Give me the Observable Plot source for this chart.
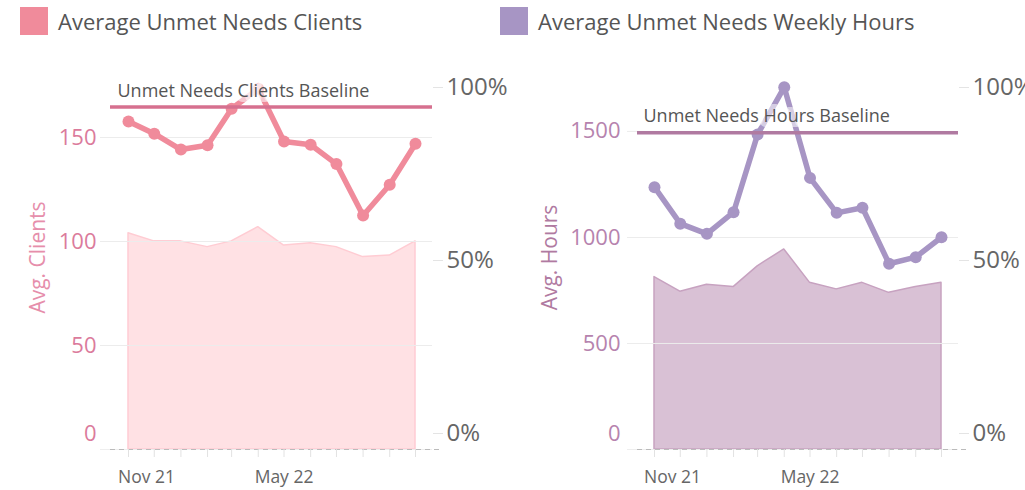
<!DOCTYPE html>
<html>
<head>
<meta charset="utf-8">
<script src="https://cdn.jsdelivr.net/npm/d3@7"></script>
<script src="https://cdn.jsdelivr.net/npm/@observablehq/plot@0.6"></script>
<style>
  html, body { margin: 0; padding: 0; background: white; }
  body { width: 1025px; height: 490px; position: relative; overflow: hidden; font-family: "Open Sans", sans-serif; }
  .legend-item { position: absolute; top: 7px; display: flex; align-items: center; }
  .swatch { width: 28px; height: 28px; margin-right: 10px; }
  .legend-label { font-size: 22px; color: #555; line-height: 28px; }
  .panel { position: absolute; top: 50px; height: 440px; }
  .panel svg { position: absolute; left: 0; top: 0; max-width: none !important; }
</style>
</head>
<body>
<div class="legend-item" style="left:20px"><div class="swatch" style="background:#F08B9B"></div><div class="legend-label">Average Unmet Needs Clients</div></div>
<div class="legend-item" style="left:500px"><div class="swatch" style="background:#A795C4"></div><div class="legend-label">Average Unmet Needs Weekly Hours</div></div>
<div id="p1" class="panel" style="left:0px; width:512px"></div>
<div id="p2" class="panel" style="left:512px; width:513px"></div>
<script>
// ---- data ----
const months = ["2021-11","2021-12","2022-01","2022-02","2022-03","2022-04","2022-05","2022-06","2022-07","2022-08","2022-09","2022-10"];
const avgClients = [157.7, 151.8, 144.2, 146.3, 163.8, 173.4, 148.1, 146.5, 137.2, 112.5, 127.3, 147.0];
const clientsPct = [0.563, 0.542, 0.542, 0.527, 0.542, 0.579, 0.531, 0.537, 0.527, 0.501, 0.505, 0.542];
const avgHours = [1237, 1065, 1017, 1119, 1486, 1709, 1281, 1116, 1140, 876, 907, 1001];
const hoursPct = [0.449, 0.411, 0.429, 0.423, 0.477, 0.521, 0.434, 0.417, 0.434, 0.408, 0.423, 0.434];
const clientsBaseline = 164.6;
const hoursBaseline = 1494;
const clientsTicks = [0, 50, 100, 150];
const hoursTicks = [0, 500, 1000, 1500];
const pctTicks = [0, 0.5, 1];
const labeledMonths = ["2021-11", "2022-05"];

const parse = d3.utcParse("%Y-%m");
const dates = months.map(parse);

function panel(el, cfg) {
  const data = dates.map((d, i) => ({date: d, v: cfg.values[i], p: cfg.pct[i]}));
  const common = {
    width: cfg.width, height: 440,
    marginTop: 15, marginBottom: 41, marginLeft: cfg.mL, marginRight: cfg.mR,
    style: {fontFamily: "Open Sans", background: "transparent", overflow: "visible", maxWidth: "none"}
  };
  const xScale = {type: "utc", domain: [dates[0], dates[dates.length - 1]], insetLeft: cfg.insetL, insetRight: 17};
  const back = Plot.plot({
    ...common,
    x: {...xScale, axis: null},
    y: {domain: [0, 1], axis: null},
    marks: [
      Plot.areaY(data, {x: "date", y: "p", fill: cfg.areaFill, stroke: cfg.areaStroke, strokeWidth: 1.5}),
      Plot.axisY([pctTicks[2]], {anchor: "right", tickSize: 10, tickPadding: 4, dy: 22, tickFormat: d3.format(".0%"), stroke: "#e4e4e4", fill: "#666", fontSize: 24, label: null}),
      Plot.axisY([pctTicks[1]], {anchor: "right", tickSize: 10, tickPadding: 4, dy: 3, tickFormat: d3.format(".0%"), stroke: "#e4e4e4", fill: "#666", fontSize: 24, label: null}),
      Plot.axisY([pctTicks[0]], {anchor: "right", tickSize: 10, tickPadding: 4, dy: -16, tickFormat: d3.format(".0%"), stroke: "#e4e4e4", fill: "#666", fontSize: 24, label: null})
    ]
  });
  const front = Plot.plot({
    ...common,
    x: xScale,
    y: {domain: [0, cfg.yMax]},
    marks: [
      Plot.gridY(cfg.ticks.slice(1), {stroke: "#ececec", strokeOpacity: 1}),
      Plot.ruleY([0], {stroke: "#eeeeee"}),
      Plot.ruleY([0], {stroke: "#bbbbbb", strokeDasharray: "5,4", insetLeft: 10, insetRight: -10}),
      Plot.axisX(dates, {tickSize: 8, stroke: "#e2e2e2", tickFormat: () => "", label: null}),
      Plot.axisX([parse(labeledMonths[1])], {tickSize: 0, tickPadding: 21, tickFormat: d3.utcFormat("%b %y"), fill: "#666", fontSize: 17.5, label: null}),
      Plot.axisX([parse(labeledMonths[0])], {tickSize: 0, tickPadding: 21, dx: 18, tickFormat: d3.utcFormat("%b %y"), fill: "#666", fontSize: 17.5, label: null}),
      Plot.axisY(cfg.ticks.slice(1), {anchor: "left", tickSize: 0, tickPadding: cfg.tickPad, fill: cfg.tickColor, fontSize: 22, tickFormat: d3.format("d"), label: null}),
      Plot.axisY(cfg.ticks.slice(0, 1), {anchor: "left", tickSize: 0, tickPadding: cfg.tickPad, dy: -16, fill: cfg.tickColor, fontSize: 22, tickFormat: d3.format("d"), label: null}),
      Plot.text([cfg.title], {frameAnchor: "left", rotate: -90, dx: cfg.titleDx, dy: 0, textAnchor: "middle", lineAnchor: "middle", fill: cfg.titleColor, fontSize: 21}),
      Plot.lineY(data, {x: "date", y: "v", stroke: cfg.lineColor, strokeWidth: 5.5}),
      Plot.dot(data, {x: "date", y: "v", fill: cfg.lineColor, r: 6}),
      Plot.ruleY([cfg.baseline], {stroke: cfg.baseColor, strokeWidth: 3.5, insetLeft: 10}),
      Plot.text([{date: dates[0], v: cfg.baseline, t: cfg.baseLabel}], {x: "date", y: "v", text: "t", textAnchor: "start", dx: -11, dy: -16, fill: "#555", fontSize: 18, stroke: "white", strokeOpacity: 0.55, strokeWidth: 10})
    ]
  });
  el.appendChild(back);
  el.appendChild(front);
}

panel(document.getElementById("p1"), {
  width: 512, mL: 100, mR: 80, insetL: 28,
  values: avgClients, pct: clientsPct, baseline: clientsBaseline, yMax: 184.6, ticks: clientsTicks,
  areaFill: "#FFE1E4", areaStroke: "#FFCCD3",
  lineColor: "#F08B9B", baseColor: "#D6708F",
  tickColor: "#DB7B9C", titleColor: "#E68EAB", title: "Avg. Clients", titleDx: -62, tickPad: 4,
  baseLabel: "Unmet Needs Clients Baseline"
});
panel(document.getElementById("p2"), {
  width: 513, mL: 115, mR: 67, insetL: 27,
  values: avgHours, pct: hoursPct, baseline: hoursBaseline, yMax: 1811, ticks: hoursTicks,
  areaFill: "#D9C1D5", areaStroke: "#C7A2C0",
  lineColor: "#A795C4", baseColor: "#B07AA1",
  tickColor: "#B683AE", titleColor: "#B07AA1", title: "Avg. Hours", titleDx: -77, tickPad: 7,
  baseLabel: "Unmet Needs Hours Baseline"
});
</script>
</body>
</html>
